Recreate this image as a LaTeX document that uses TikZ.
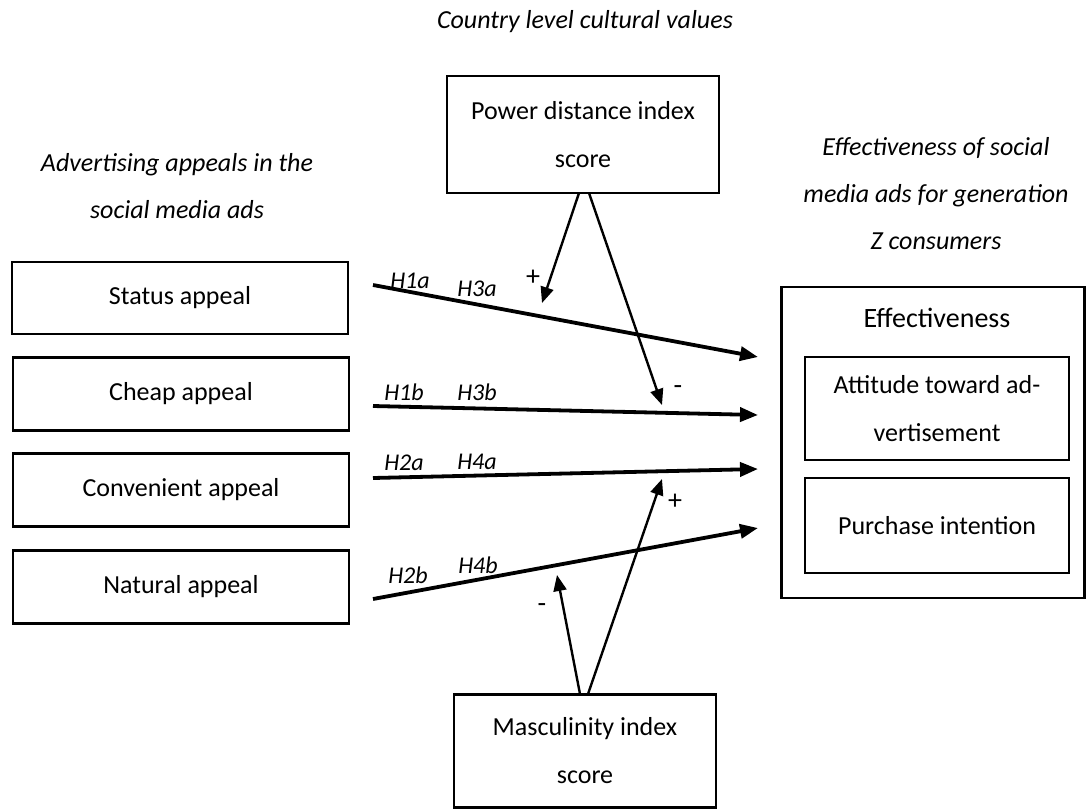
\documentclass[tikz,border=0pt]{standalone}
\usepackage{fontspec}
\setmainfont{Carlito}
\usetikzlibrary{arrows.meta}
\begin{document}
\begin{tikzpicture}[x=1pt,y=-1pt,
  box/.style={draw, line width=2.6pt, inner sep=0pt, align=center, font=\fontsize{26}{48}\selectfont},
  head/.style={align=center, inner sep=0pt, font=\itshape\fontsize{26}{47}\selectfont},
  hlab/.style={font=\itshape\fontsize{24}{26}\selectfont, inner sep=0pt},
  sign/.style={font=\fontsize{28}{30}\selectfont, inner sep=0pt},
  mainarr/.style={line width=3.8pt, -{Triangle[length=18pt,width=14pt]}},
  modarr/.style={line width=2.4pt, -{Triangle[length=16pt,width=13pt]}},
]
\useasboundingbox (0,0) rectangle (1087,809);

% headings
\node[head] (hcountry) at (585,22) {Country level cultural values};
\node[head] (hleft) at (177,186) {Advertising appeals in the\\social media ads};
\node[head] (hright) at (936,194) {Effectiveness of social\\media ads for generation\\Z consumers};

% left boxes
\node[box, minimum width=336pt, minimum height=72pt] (status) at (180,298) {Status appeal};
\node[box, minimum width=336pt, minimum height=73pt] (cheap) at (181,394) {Cheap appeal};
\node[box, minimum width=336pt, minimum height=73pt] (conv) at (181,490) {Convenient appeal};
\node[box, minimum width=336pt, minimum height=73pt] (natural) at (181,587) {Natural appeal};

% moderators
\node[box, minimum width=272pt, minimum height=117pt] (pd) at (583,134.5) {Power distance index\\score};
\node[box, minimum width=262pt, minimum height=113pt] (masc) at (585,751) {Masculinity index\\score};

% effectiveness
\node[box, minimum width=303pt, minimum height=311pt] (eff) at (933,442.5) {};
\node[font=\fontsize{28}{30}\selectfont, inner sep=0pt] (efftitle) at (937,318) {Effectiveness};
\node[box, minimum width=264pt, minimum height=103pt] (att) at (937,408.5) {Attitude toward ad-\\vertisement};
\node[box, minimum width=264pt, minimum height=95pt] (pur) at (937,525.5) {Purchase intention};

% main arrows
\coordinate (s1) at (373,285); \coordinate (e1) at (758,357);
\coordinate (s2) at (373,406); \coordinate (e2) at (758,415);
\coordinate (s3) at (373,478); \coordinate (e3) at (758,469);
\coordinate (s4) at (373,599); \coordinate (e4) at (758,528);
\draw[mainarr] (s1) -- (e1);
\draw[mainarr] (s2) -- (e2);
\draw[mainarr] (s3) -- (e3);
\draw[mainarr] (s4) -- (e4);

% moderator arrows
\coordinate (pa) at (579,193); \coordinate (pat) at (542,303);
\coordinate (pb) at (589,193); \coordinate (pbt) at (662,405);
\coordinate (ma) at (580,694); \coordinate (mat) at (557,575);
\coordinate (mb) at (588,694); \coordinate (mbt) at (662,479);
\draw[modarr] (pa) -- (pat);
\draw[modarr] (pb) -- (pbt);
\draw[modarr] (ma) -- (mat);
\draw[modarr] (mb) -- (mbt);

% labels
\node[hlab] (l1a) at (410,281) {H1a};
\node[hlab] (l3a) at (477,289) {H3a};
\node[hlab] (l1b) at (404,392) {H1b};
\node[hlab] (l3b) at (477,392) {H3b};
\node[hlab] (l2a) at (404,463) {H2a};
\node[hlab] (l4a) at (477,462) {H4a};
\node[hlab] (l2b) at (408,575) {H2b};
\node[hlab] (l4b) at (478,565) {H4b};

\node[sign] (sg1) at (533,278) {+};
\node[sign] (sg2) at (678,390) {-};
\node[sign] (sg3) at (675,502) {+};
\node[sign] (sg4) at (542,608) {-};
\end{tikzpicture}
\end{document}
